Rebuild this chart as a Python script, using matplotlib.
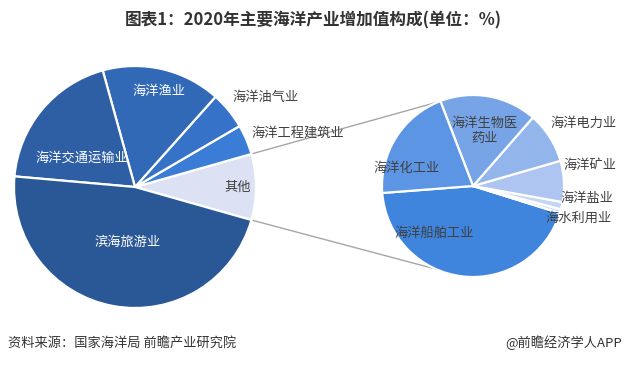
import numpy as np
import matplotlib
matplotlib.use("Agg")
import matplotlib.pyplot as plt

plt.rcParams['font.family'] = ['Noto Sans CJK SC', 'DejaVu Sans']

# ---- data (percent) ----
main_labels = ['其他', '海洋工程建筑业', '海洋油气业', '海洋渔业', '海洋交通运输业', '滨海旅游业']
main_values = [8.8, 4.0, 5.0, 15.9, 19.3, 47.0]
main_colors = ['#DCE2F4', '#3A7CD6', '#3673C8', '#3169B6', '#2E5FA4', '#2A5796']

sub_labels = ['海洋船舶工业', '海水利用业', '海洋盐业', '海洋矿业', '海洋电力业', '海洋生物医\n药业', '海洋化工业']
sub_values = [44.0, 0.7, 1.3, 7.3, 9.1, 17.3, 20.4]
sub_colors = ['#3F84DD', '#D2DFF6', '#C5D6F4', '#ADC5F0', '#92B5EB', '#76A4E7', '#5B95E3']

title = '图表1：2020年主要海洋产业增加值构成(单位：%)'
source = '资料来源：国家海洋局 前瞻产业研究院'
brand = '@前瞻经济学人APP'

W, H = 626, 368
fig = plt.figure(figsize=(W / 100, H / 100), dpi=100)
ax = fig.add_axes([0, 0, 1, 1])

def Y(y):
    return H - y

# left pie
lc = (135, Y(187)); lr = 121
start_main = -main_values[0] / sum(main_values) * 360 / 2
wl, _ = ax.pie(main_values, colors=main_colors, center=lc, radius=lr,
               startangle=start_main, counterclock=True, frame=True,
               wedgeprops=dict(edgecolor='white', linewidth=1.6))

# right pie
rc = (473, Y(186)); rr = 91
wr, _ = ax.pie(sub_values, colors=sub_colors, center=rc, radius=rr,
               startangle=184.4, counterclock=True, frame=True,
               wedgeprops=dict(edgecolor='white', linewidth=1.6))

# connector lines
half = main_values[0] / sum(main_values) * 360 / 2
for a1, a2 in [(half, 112.5), (-half, 246.0)]:
    p1 = (lc[0] + lr * np.cos(np.radians(a1)), lc[1] + lr * np.sin(np.radians(a1)))
    p2 = (rc[0] + rr * np.cos(np.radians(a2)), rc[1] + rr * np.sin(np.radians(a2)))
    ax.plot([p1[0], p2[0]], [p1[1], p2[1]], color='#A6A6A6', lw=1.0, zorder=0)

fs = 9.5
tc = '#404040'
# left labels
ax.text(128, Y(242), '滨海旅游业', color='white', fontsize=fs, ha='center', va='center')
ax.text(82, Y(158), '海洋交通运输业', color='white', fontsize=fs, ha='center', va='center')
ax.text(159, Y(91), '海洋渔业', color='white', fontsize=fs, ha='center', va='center')
ax.text(238, Y(187), '其他', color=tc, fontsize=fs, ha='center', va='center')
ax.text(266, Y(97), '海洋油气业', color=tc, fontsize=fs, ha='center', va='center')
ax.text(298, Y(133), '海洋工程建筑业', color=tc, fontsize=fs, ha='center', va='center')

# right labels
ax.text(434, Y(233), '海洋船舶工业', color=tc, fontsize=fs, ha='center', va='center')
ax.text(407, Y(168), '海洋化工业', color=tc, fontsize=fs, ha='center', va='center')
ax.text(485, Y(131), '海洋生物医\n药业', color=tc, fontsize=fs, ha='center', va='center', linespacing=1.2)
ax.text(584, Y(123), '海洋电力业', color=tc, fontsize=fs, ha='center', va='center')
ax.text(590, Y(165), '海洋矿业', color=tc, fontsize=fs, ha='center', va='center')
ax.text(587, Y(198), '海洋盐业', color=tc, fontsize=fs, ha='center', va='center')
ax.text(579, Y(218), '海水利用业', color=tc, fontsize=fs, ha='center', va='center')

# title and footer
ax.text(313, Y(20), title, color='#333333', fontsize=12, fontweight='bold', ha='center', va='center')
ax.text(8, Y(343), source, color='#333333', fontsize=9.5, ha='left', va='center')
ax.text(622, Y(343), brand, color='#333333', fontsize=9.5, ha='right', va='center')

ax.set_xlim(0, W)
ax.set_ylim(0, H)
ax.set_aspect('auto')
ax.axis('off')

fig.savefig('out.png', dpi=100, facecolor='white')
